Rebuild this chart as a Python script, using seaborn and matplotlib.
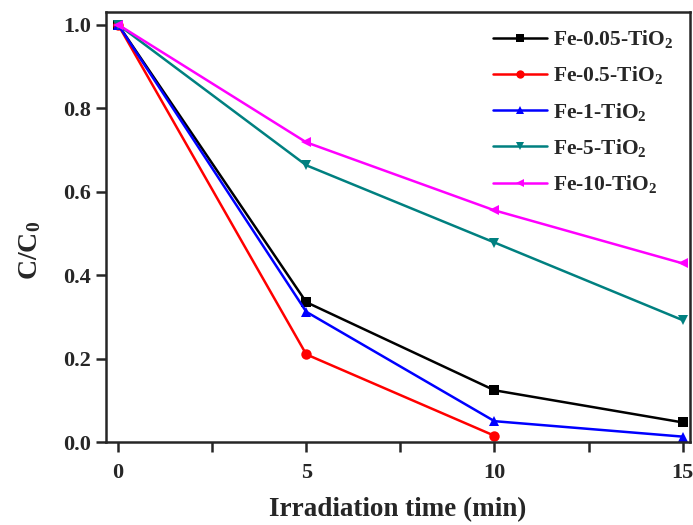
import numpy as np
import pandas as pd
import seaborn as sns
import matplotlib
matplotlib.use("Agg")
from matplotlib import pyplot as plt
from matplotlib.ticker import MultipleLocator, FormatStrFormatter

# data
time = [0, 5, 10, 15]
samples = ["Fe-0.05-TiO$_2$", "Fe-0.5-TiO$_2$", "Fe-1-TiO$_2$", "Fe-5-TiO$_2$", "Fe-10-TiO$_2$"]
fe_005 = [1.0, 0.335, 0.124, 0.047]
fe_05 = [1.0, 0.210, 0.015]
fe_1 = [1.0, 0.312, 0.050, 0.013]
fe_5 = [1.0, 0.663, 0.478, 0.292]
fe_10 = [1.0, 0.718, 0.555, 0.428]
colors = ["#000000", "#FF0000", "#0000FF", "#008080", "#FF00FF"]
markers = ["s", "o", "^", "v", "<"]

rows = []
for name, vals in zip(samples, [fe_005, fe_05, fe_1, fe_5, fe_10]):
    for t, v in zip(time, vals):
        rows.append({"time": t, "c": v, "sample": name})
df = pd.DataFrame(rows)

sns.set_style("ticks")
plt.rcParams["font.family"] = ["Liberation Serif", "DejaVu Serif"]
plt.rcParams["font.weight"] = "bold"
plt.rcParams["mathtext.fontset"] = "custom"
plt.rcParams["mathtext.rm"] = "Liberation Serif:bold"
plt.rcParams["mathtext.it"] = "Liberation Serif:bold"
plt.rcParams["mathtext.bf"] = "Liberation Serif:bold"

fig = plt.figure(figsize=(6.93, 5.25), dpi=100)
ax = fig.add_axes([0.153, 0.158, 0.843, 0.819])

sns.lineplot(
    data=df, x="time", y="c", hue="sample", style="sample",
    hue_order=samples, style_order=samples,
    palette=dict(zip(samples, colors)),
    markers=dict(zip(samples, markers)),
    dashes=False, markersize=7.5, markeredgewidth=0, linewidth=1.8,
    ax=ax,
)

ax.set_xlim(-0.32, 15.2)
ax.set_ylim(0, 1.03)
ax.xaxis.set_major_locator(MultipleLocator(5))
ax.xaxis.set_minor_locator(MultipleLocator(2.5))
ax.yaxis.set_major_locator(MultipleLocator(0.2))
ax.yaxis.set_major_formatter(FormatStrFormatter("%.1f"))
for s in ax.spines.values():
    s.set_linewidth(1.8)
ax.tick_params(which="both", direction="out", width=1.8, labelsize=16, length=7)
ax.tick_params(axis="x", pad=8)
ax.tick_params(axis="y", pad=4)
ax.set_xlabel("Irradiation time (min)", fontsize=19.5, fontweight="bold")
ax.xaxis.set_label_coords(0.5, -0.128)
ax.set_ylabel("C/C$_0$", fontsize=20, fontweight="bold")
ax.yaxis.set_label_coords(-0.108, 0.445)

leg = ax.legend(loc="upper right", frameon=False, fontsize=15.5, handlelength=2.5,
                labelspacing=0.66, borderaxespad=0.35, handletextpad=0.3,
                markerscale=0.8)

fig.savefig("out.png", dpi=100)
